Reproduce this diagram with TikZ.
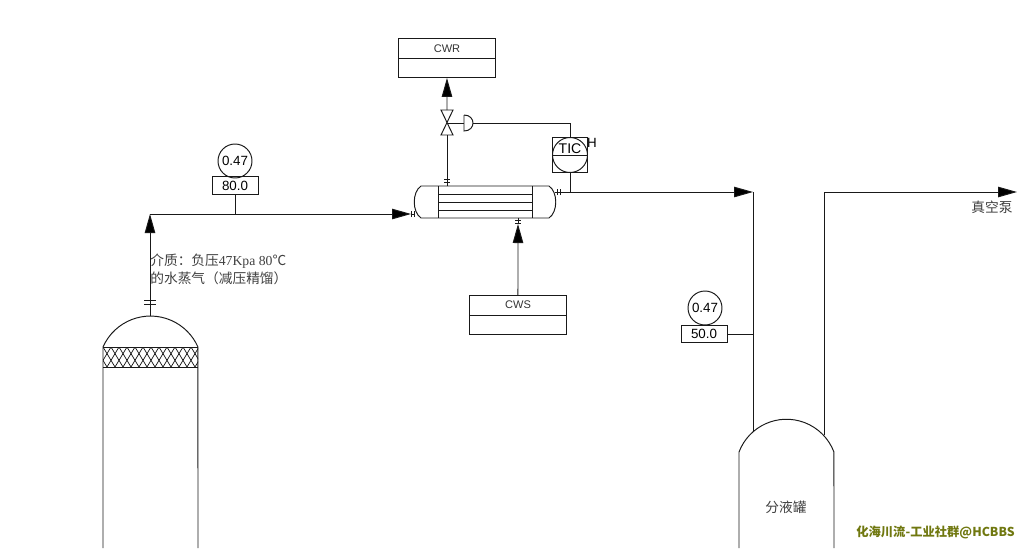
\documentclass[tikz,border=0pt]{standalone}
\usepackage{fontspec}
\setmainfont{Liberation Sans}
\newfontfamily\cjk{Noto Sans CJK SC}
\newfontfamily\serifpart{Liberation Serif}
\usetikzlibrary{arrows.meta}

\tikzset{
    pipe/.style={line width=0.55pt, draw=black!90},
    flow/.style={pipe, -{Triangle[length=0.38cm, width=0.21cm, fill=black]}},
    twobox/.style={draw=black!90, line width=0.55pt, minimum width=1.94cm, minimum height=0.78cm, inner sep=0pt},
    valuebox/.style={draw=black!90, line width=0.55pt, minimum width=0.92cm, minimum height=0.35cm, inner sep=0pt, font=\fontsize{7.6}{8}\selectfont},
    dial/.style={draw=black!90, line width=0.55pt, circle, minimum size=0.68cm, inner sep=0pt, font=\fontsize{7.6}{8}\selectfont},
    note/.style={font=\cjk\fontsize{7.8}{9}\selectfont, text=black!75, inner sep=0pt},
    flange/.pic={
        \draw[pipe] (-3,-1.2) -- (3,-1.2);
        \draw[pipe] (-3,1.2) -- (3,1.2);
    },
    bigflange/.pic={
        \draw[pipe] (-6,-2) -- (6,-2);
        \draw[pipe] (-6,2) -- (6,2);
    }
}

\begin{document}
\begin{tikzpicture}[x=0.02cm, y=-0.02cm]
    \useasboundingbox (0,0) rectangle (1024,548);

    % column
    \draw[pipe] (103,548) -- (103,347) arc[start angle=156.2, end angle=23.8, radius=1.038cm] -- (198,548);
    \draw[pipe] (103,347) -- (198,347);
    \draw[pipe] (103,367) -- (198,367);
    \begin{scope}
        \clip (103,347) rectangle (198,367);
        \foreach \i in {-2,...,13} {
            \draw[pipe, line width=0.4pt] (103+8*\i,347) -- ++(12,20);
            \draw[pipe, line width=0.4pt] (103+8*\i,347) -- ++(-12,20);
        }
    \end{scope}
    \coordinate (columntop) at (150,316);
    \pic at (150,302) {bigflange};

    % condenser
    \draw[pipe] (421,186) -- (549,186) .. controls (558,192) and (558,212) .. (549,218)
        -- (421,218) .. controls (412,212) and (412,192) .. (421,186);
    \draw[pipe] (438,186) -- (438,218);
    \draw[pipe] (532,186) -- (532,218);
    \foreach \y in {194,202,210} {
        \draw[pipe] (438,\y) -- (532,\y);
    }
    \coordinate (condin) at (415,214);
    \coordinate (condout) at (555,192);
    \coordinate (condtop) at (447,186);
    \coordinate (condbot) at (518,218);
    \pic[rotate=90] at (413,214) {flange};
    \pic[rotate=90] at (559,192) {flange};
    \pic at (447,181) {flange};
    \pic at (518,222) {flange};

    % utility boxes
    \node[twobox, anchor=north west] (CWR) at (398,38) {};
    \draw[pipe] (398,58) -- (496,58);
    \node[font=\fontsize{6.3}{8}\selectfont, text=black!80] (CWRlabel) at (447,49) {CWR};
    \node[twobox, anchor=north west] (CWS) at (469,295) {};
    \draw[pipe] (469,315) -- (567,315);
    \node[font=\fontsize{6.3}{8}\selectfont, text=black!80] (CWSlabel) at (518,305) {CWS};

    % valve
    \coordinate (valve) at (447,123);
    \draw[pipe, fill=white] (441,110) -- (453,110) -- (441,135) -- (453,135) -- cycle;
    \draw[pipe] (valve) -- (464,123);
    \draw[pipe, fill=white] (464,115) -- (464,131) .. controls (476,131) and (476,115) .. (464,115);
    \coordinate (actuator) at (473,123);

    % temperature controller
    \node[draw=black!90, line width=0.55pt, minimum size=0.71cm, inner sep=0pt] (TICbox) at (570,155) {};
    \node[draw=black!90, line width=0.55pt, circle, minimum size=0.7cm, inner sep=0pt] (TICdial) at (570,155) {};
    \draw[pipe] (TICdial.west) -- (TICdial.east);
    \node[font=\fontsize{8}{9}\selectfont, inner sep=0pt] (TIC) at (570,148.5) {TIC};
    \node[font=\fontsize{7.6}{8}\selectfont, inner sep=0pt] (TICH) at (592,143) {H};
    \draw[pipe] (actuator) -| (TICbox.north);
    \coordinate (tee) at (570,192);
    \draw[pipe] (TICbox.south) -- (tee);

    % instruments
    \node[dial] (PI1) at (235,161) {0.47};
    \node[valuebox] (TI1) at (235,185.5) {80.0};
    \node[dial] (PI2) at (705,308) {0.47};
    \node[valuebox] (TI2) at (704,334) {50.0};

    % separator
    \draw[pipe] (739,548) -- (739,452) arc[start angle=159.2, end angle=20.8, radius=1.016cm] -- (834,548);
    \coordinate (drumin) at (753,432);
    \coordinate (drumout) at (824,435);
    \node[note] (drum) at (786,507) {分液罐};

    % pipes
    \coordinate (riser) at (150,214);
    \coordinate (corner1) at (753,192);
    \coordinate (corner2) at (824,192);
    \coordinate (vacuum) at (1017,192);
    \draw[flow] (columntop) -- (riser);
    \draw[flow] (riser) -- (411,214);
    \draw[pipe] (411,214) -- (condin);
    \draw[pipe] (TI1.south) -- (235,214);
    \draw[pipe] (condtop) -- (447,135);
    \draw[flow] (447,110) -- (CWR.south);
    \draw[flow] (CWS.north) -- (518,224);
    \draw[pipe] (518,224) -- (condbot);
    \draw[flow] (condout) -- (corner1);
    \draw[pipe] (corner1) -- (drumin);
    \draw[pipe] (TI2.east) -- (753,334);
    \draw[flow] (drumout) -- (corner2) -- (vacuum);

    % texts
    \node[note, anchor=west] (medium1) at (150,261) {介质：负压{\serifpart 47Kpa 80}℃};
    \node[note, anchor=west] (medium2) at (150,278) {的水蒸气（减压精馏）};
    \node[note] (pump) at (992,207) {真空泵};
    \node[font=\cjk\fontsize{7}{8}\selectfont\bfseries, text={rgb,255:red,112;green,120;blue,16}, inner sep=0pt, anchor=east] (mark) at (1015,532) {化海川流-工业社群@HCBBS};
\end{tikzpicture}
\end{document}
